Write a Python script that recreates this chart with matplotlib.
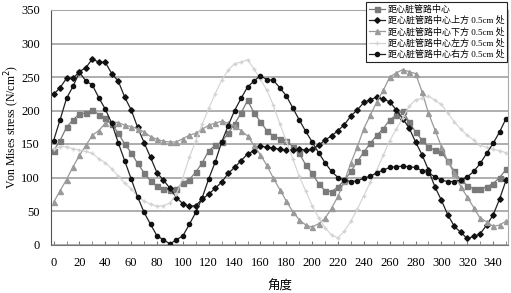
import numpy as np
import matplotlib.pyplot as plt
from matplotlib.ticker import MultipleLocator

# 角度 (每 5 度一个点)
angles = list(range(0, 355, 5))

# 各位置的 Von Mises stress
s_center = [140, 155, 175, 186, 195, 196, 201, 194, 189, 180, 166, 150, 137, 121, 107, 95, 87, 83, 81, 83,
            92, 97, 108, 122, 140, 148, 153, 166, 180, 196, 215, 197, 183, 170, 162, 158, 155, 146, 136, 119,
            106, 91, 80, 79, 86, 96, 109, 124, 138, 151, 163, 173, 186, 193, 200, 183, 168, 156, 145, 141,
            138, 124, 109, 96, 88, 83, 83, 86, 91, 100, 112]
s_up = [224, 234, 248, 248, 258, 264, 277, 272, 272, 255, 244, 220, 201, 175, 152, 130, 107, 96, 84, 70,
        61, 57, 58, 68, 75, 84, 93, 106, 115, 125, 135, 140, 147, 145, 144, 142, 141, 141, 142, 141,
        142, 148, 156, 162, 170, 179, 192, 201, 212, 216, 220, 217, 213, 201, 188, 174, 153, 134, 111, 86,
        66, 44, 27, 18, 9, 12, 16, 29, 44, 68, 96]
s_down = [63, 80, 97, 116, 133, 148, 163, 170, 181, 183, 182, 178, 176, 173, 168, 161, 157, 154, 153, 153,
          158, 163, 166, 172, 178, 181, 184, 181, 177, 170, 162, 148, 134, 118, 99, 82, 65, 49, 37, 29,
          26, 31, 39, 54, 72, 95, 122, 146, 173, 193, 213, 230, 250, 256, 261, 258, 255, 228, 196, 171,
          146, 124, 106, 86, 71, 55, 39, 34, 27, 29, 35]
s_left = [143, 146, 146, 143, 141, 139, 136, 128, 122, 113, 102, 92, 83, 72, 65, 60, 57, 58, 62, 75,
          100, 130, 155, 180, 203, 225, 245, 260, 270, 272, 276, 262, 247, 230, 208, 180, 155, 128, 102, 80,
          58, 40, 25, 14, 10, 20, 35, 53, 73, 93, 111, 133, 155, 172, 189, 206, 216, 218, 222, 215,
          209, 196, 183, 172, 163, 156, 148, 145, 142, 140, 137]
s_right = [155, 186, 218, 236, 257, 244, 238, 219, 202, 181, 152, 125, 98, 71, 48, 30, 13, 7, 1, 7,
           13, 30, 48, 70, 98, 123, 153, 177, 200, 218, 235, 244, 252, 246, 245, 234, 222, 204, 186, 169,
           153, 137, 122, 109, 100, 96, 94, 95, 99, 102, 107, 111, 115, 116, 117, 116, 115, 110, 107, 101,
           96, 94, 94, 96, 101, 109, 121, 136, 151, 168, 188]

labels = ["距心脏管路中心",
          "距心脏管路中心上方 0.5cm 处",
          "距心脏管路中心下方 0.5cm 处",
          "距心脏管路中心左方 0.5cm 处",
          "距心脏管路中心右方 0.5cm 处"]

plt.rcParams['font.family'] = ['Liberation Serif', 'Noto Sans CJK SC']

fig = plt.figure(figsize=(5.11, 2.93), dpi=100)
ax = fig.add_axes([51 / 511, 1 - 244.5 / 293, 457 / 511, 234.5 / 293])

ax.plot(angles, s_center, color="#7a7a7a", marker="s", markersize=3.6, linewidth=0.9, label=labels[0])
ax.plot(angles, s_up, color="#222222", marker="D", markersize=2.8, markerfacecolor="#111111",
        markeredgecolor="#111111", linewidth=0.9, label=labels[1])
ax.plot(angles, s_down, color="#9a9a9a", marker="^", markersize=3.6, linewidth=0.9, label=labels[2])
ax.plot(angles, s_left, color="#d2d2d2", marker="+", markersize=2.5, linewidth=0.8, label=labels[3])
ax.plot(angles, s_right, color="#222222", marker="o", markersize=3, markerfacecolor="#111111",
        markeredgecolor="#111111", linewidth=0.9, label=labels[4])

ax.set_xlim(-2, 351.5)
ax.set_ylim(0, 350)
ax.set_yticks(range(0, 351, 50))
ax.set_xticks(range(0, 341, 20))
ax.xaxis.set_minor_locator(MultipleLocator(10))
ax.tick_params(axis="x", which="both", direction="in", length=3, color="#777777",
               labelsize=9, pad=9)
ax.tick_params(axis="y", length=0, labelsize=9, pad=8)

ax.grid(axis="y", color="#999999", linewidth=1.1)
ax.set_axisbelow(True)
for side in ["top", "right"]:
    ax.spines[side].set_color("#aaaaaa")
ax.spines["left"].set_color("#555555")
ax.spines["bottom"].set_color("#777777")

ax.set_xlabel("角度", fontsize=9, labelpad=8)
ax.set_ylabel("Von Mises stress (N/cm$^2$)", fontsize=8.5, va="center")
ax.yaxis.set_label_coords(-0.084, 0.5)

leg = ax.legend(loc="upper right", bbox_to_anchor=(507 / 511, 1 - 2 / 293),
                bbox_transform=fig.transFigure, borderaxespad=0, fontsize=6.5,
                fancybox=False, framealpha=1, edgecolor="#222222", handlelength=1.8,
                handletextpad=0.3, labelspacing=0.25, borderpad=0.3)
leg.get_frame().set_linewidth(0.8)
leg.set_zorder(5)

fig.savefig("out.png", dpi=100)
